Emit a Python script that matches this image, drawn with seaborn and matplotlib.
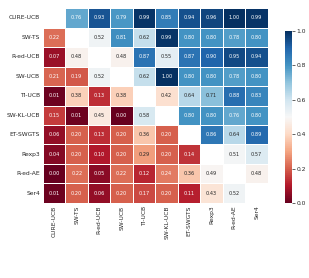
import numpy as np
import pandas as pd
import seaborn as sns
import matplotlib.pyplot as plt

algos = ["CURE-UCB", "SW-TS", "R-ed-UCB", "SW-UCB", "TI-UCB",
         "SW-KL-UCB", "ET-SWGTS", "Rexp3", "R-ed-AE", "Ser4"]

nan = np.nan
win_rates = [
    [nan, 0.76, 0.93, 0.79, 0.99, 0.85, 0.94, 0.96, 1.00, 0.99],
    [0.22, nan, 0.52, 0.81, 0.62, 0.99, 0.80, 0.80, 0.78, 0.80],
    [0.07, 0.48, nan, 0.48, 0.87, 0.55, 0.87, 0.90, 0.95, 0.94],
    [0.21, 0.19, 0.52, nan, 0.62, 1.00, 0.80, 0.80, 0.78, 0.80],
    [0.01, 0.38, 0.13, 0.38, nan, 0.42, 0.64, 0.71, 0.88, 0.83],
    [0.15, 0.01, 0.45, 0.00, 0.58, nan, 0.80, 0.80, 0.76, 0.80],
    [0.06, 0.20, 0.13, 0.20, 0.36, 0.20, nan, 0.86, 0.64, 0.89],
    [0.04, 0.20, 0.10, 0.20, 0.29, 0.20, 0.14, nan, 0.51, 0.57],
    [0.00, 0.22, 0.05, 0.22, 0.12, 0.24, 0.36, 0.49, nan, 0.48],
    [0.01, 0.20, 0.06, 0.20, 0.17, 0.20, 0.11, 0.43, 0.52, nan],
]

df = pd.DataFrame(win_rates, index=algos, columns=algos)

sns.set_style("white")
fig = plt.figure(figsize=(3.09, 2.78), dpi=100)
ax = fig.add_axes([0.139, 0.270, 0.728, 0.701])
cax = fig.add_axes([0.922, 0.270, 0.023, 0.619])

sns.heatmap(df, ax=ax, cbar_ax=cax, cmap="RdBu", vmin=0, vmax=1,
            annot=True, fmt=".2f", annot_kws={"size": 3.6},
            linewidths=0.6, linecolor="white")

ax.tick_params(axis="both", length=0, labelsize=4.3, pad=2)
ax.set_xticklabels(algos, rotation=90)
ax.set_yticklabels(algos, rotation=0)
cax.tick_params(labelsize=4.3, length=2, width=0.5, pad=1)
cax.set_yticks([0.0, 0.2, 0.4, 0.6, 0.8, 1.0])
for s in cax.spines.values():
    s.set_visible(False)

fig.savefig("out.png", dpi=100)
